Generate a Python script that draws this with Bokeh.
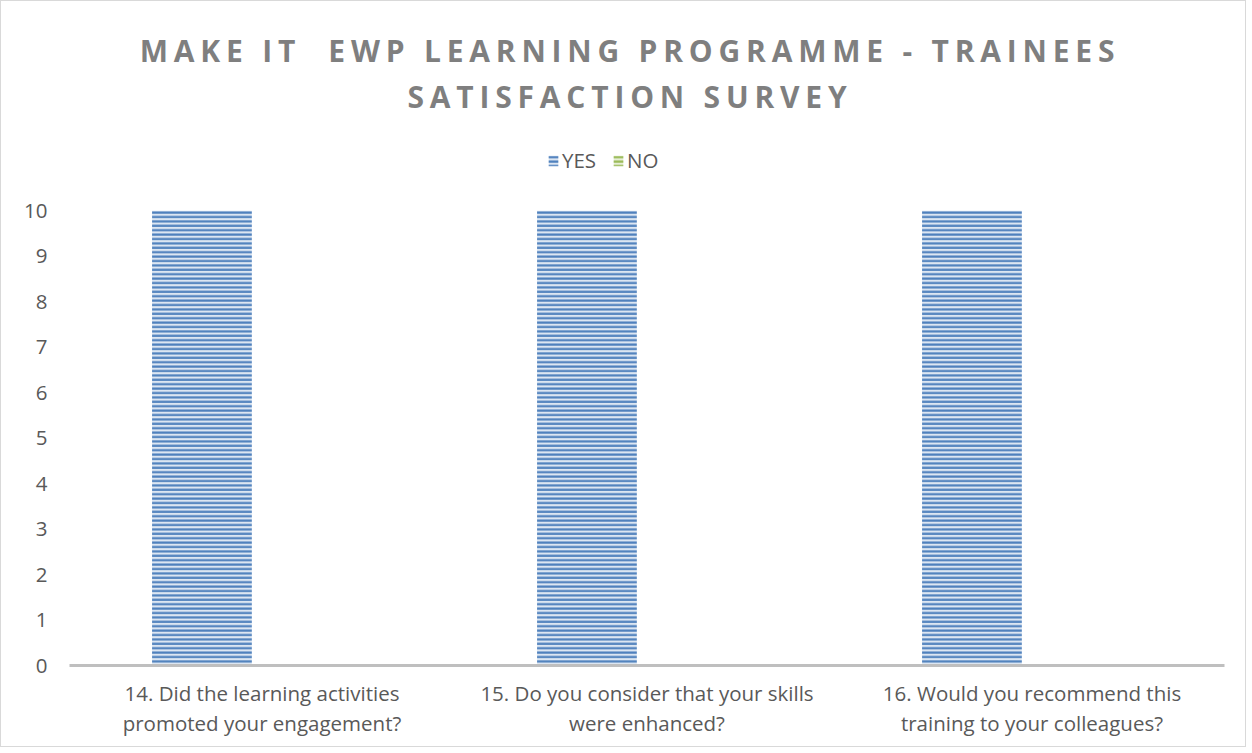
from bokeh.plotting import figure
from bokeh.models import FactorRange, Legend, LegendItem, Div, ColumnDataSource, Range1d
from bokeh.layouts import column
from bokeh.transform import dodge
from bokeh.embed import file_html
from bokeh.resources import INLINE

title_text = "MAKE IT  EWP LEARNING PROGRAMME - TRAINEES\nSATISFACTION SURVEY"
categories = [
    "14. Did the learning activities\npromoted your engagement?",
    "15. Do you consider that your skills\nwere enhanced?",
    "16. Would you recommend this\ntraining to your colleagues?",
]
yes_values = [10, 10, 10]
no_values = [0, 0, 0]
y_ticks = [0, 1, 2, 3, 4, 5, 6, 7, 8, 9, 10]

TXT = "#595959"
FONT = "Open Sans"

src = ColumnDataSource(dict(cat=categories, yes=yes_values, no=no_values))

title_div = Div(
    text=title_text,
    width=1234, height=128,
    styles={
        "font-family": FONT, "font-weight": "bold", "font-size": "30px",
        "letter-spacing": "5.8px", "color": "#7f7f7f", "text-align": "center",
        "white-space": "pre", "line-height": "46px", "padding-top": "22px",
        "padding-left": "14px", "box-sizing": "border-box",
    },
)

p = figure(
    x_range=FactorRange(factors=categories, range_padding=0),
    y_range=Range1d(0, 11.457),
    width=1234, height=607,
    output_backend="svg", toolbar_location=None,
    min_border_left=68, min_border_right=11, min_border_top=5, min_border_bottom=81,
)
p.outline_line_color = None
p.xgrid.grid_line_color = None
p.ygrid.grid_line_color = None

r_yes = p.vbar(x=dodge("cat", -0.156, range=p.x_range), top="yes", width=0.259, source=src,
               fill_color="#dce6f2", line_color=None,
               hatch_pattern="horizontal_line", hatch_color="#4f81bd",
               hatch_weight=2.2, hatch_scale=4.4)
r_no = p.vbar(x=dodge("cat", 0.156, range=p.x_range), top="no", width=0.259, source=src,
              fill_color="#e6eed5", line_color=None,
              hatch_pattern="horizontal_line", hatch_color="#9bbb59",
              hatch_weight=2.2, hatch_scale=4.4)

legend = Legend(items=[LegendItem(label="YES", renderers=[r_yes]),
                       LegendItem(label="NO", renderers=[r_no])],
                orientation="horizontal", location=(478, 490),
                label_text_font=FONT, label_text_font_size="20.5px", label_text_color=TXT,
                glyph_width=12, glyph_height=13, label_standoff=3, spacing=16,
                border_line_color=None, background_fill_alpha=0, padding=0, margin=0,
                label_height=30)
p.add_layout(legend)

p.yaxis.ticker = y_ticks
p.yaxis.axis_line_color = None
p.yaxis.major_tick_line_color = None
p.yaxis.minor_tick_line_color = None
p.yaxis.major_label_standoff = 16
p.yaxis.major_label_text_font = FONT
p.yaxis.major_label_text_font_size = "20.5px"
p.yaxis.major_label_text_color = TXT

p.xaxis.axis_line_color = "#bfbfbf"
p.xaxis.axis_line_width = 3
p.xaxis.major_tick_line_color = None
p.xaxis.minor_tick_line_color = None
p.xaxis.major_label_standoff = 7
p.xaxis.major_label_text_font = FONT
p.xaxis.major_label_text_font_size = "20.5px"
p.xaxis.major_label_text_color = TXT
p.xaxis.major_label_text_line_height = 1.075

layout = column(title_div, p, styles={"border": "1px solid #d9d9d9"})

open("out.html", "w").write(file_html(layout, INLINE))
